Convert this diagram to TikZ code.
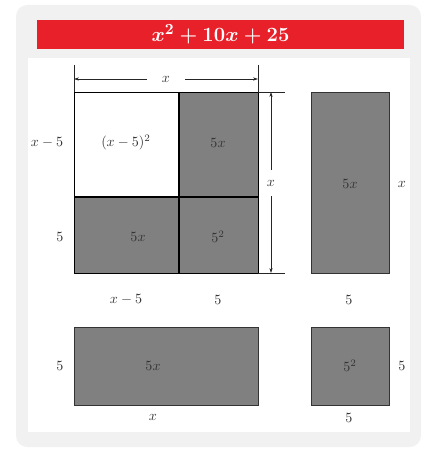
\documentclass[tikz,border=0pt]{standalone}
\usepackage{amsmath}
\usetikzlibrary{arrows.meta,positioning,calc}
\definecolor{BannerRed}{HTML}{E8202A}
\definecolor{PanelGrey}{HTML}{F1F1F1}
\definecolor{CellGrey}{HTML}{808080}
\definecolor{LabelInk}{HTML}{333333}

\begin{document}
\begin{tikzpicture}[
    x=0.025cm, y=-0.025cm,
    cell/.style={draw=black, line width=0.6pt, fill=white},
    gcell/.style={draw=black!80, line width=0.6pt, fill=CellGrey},
    lbl/.style={font=\normalsize, text=LabelInk, inner sep=1pt},
    dimlbl/.style={font=\normalsize, text=LabelInk, inner sep=0pt},
    dim/.style={-{Stealth[length=3.5pt, width=2.2pt]}, line width=0.4pt, color=black!85},
    ext/.style={line width=0.4pt, color=black!85}
  ]
  \useasboundingbox (0,0) rectangle (425,451);

  % Panel and banner
  \fill[PanelGrey, rounded corners=8pt] (16,5) rectangle (421,447);
  \fill[white] (28,58) rectangle (410,432);
  \node[fill=BannerRed, minimum width=9.175cm, minimum height=0.725cm,
        inner sep=0pt, text=white, font=\fontsize{15}{18}\selectfont\boldmath]
    (title) at (220.5,34.5) {$x^2+10x+25$};

  % Big square
  \filldraw[cell] (74,92) rectangle (179,197);
  \filldraw[gcell] (179,92) rectangle (258,197);
  \filldraw[gcell] (74,197) rectangle (179,273);
  \filldraw[gcell] (179,197) rectangle (258,273);
  \draw[line width=0.8pt] (179,92) -- (179,273) (74,197) -- (258,197);
  \draw[line width=0.6pt] (74,92) rectangle (258,273);

  \node[lbl] (sq) at (126,143) {$(x-5)^2$};
  \node[lbl] (tr) at (218,143) {$5x$};
  \node[lbl] (bl) at (138,237) {$5x$};
  \node[lbl] (br) at (218,237) {$5^2$};
  \node[lbl] (side1) at (47,143) {$x-5$};
  \node[lbl] (side2) at (60,237) {$5$};

  % Top dimension
  \draw[ext] (74,65) -- (74,92) (258,65) -- (258,92);
  \coordinate (topL) at (74,79);
  \coordinate (topR) at (258,79);
  \node[dimlbl, minimum width=0.95cm] (topx) at (166,79) {$x$};
  \draw[dim] (topx) -- (topL);
  \draw[dim] (topx) -- (topR);

  % Right dimension
  \draw[ext] (258,92) -- (285,92) (258,273) -- (285,273);
  \coordinate (sideT) at (271,92);
  \coordinate (sideB) at (271,273);
  \node[dimlbl, minimum height=0.65cm] (sidex) at (271,183) {$x$};
  \draw[dim] (sidex) -- (sideT);
  \draw[dim] (sidex) -- (sideB);

  % Tall rectangle
  \filldraw[gcell] (311,92) rectangle (389,273);
  \node[lbl] (tall) at (350,184) {$5x$};
  \node[lbl] (tallx) at (402,184) {$x$};

  % Row labels
  \node[lbl] (row1) at (126,300) {$x-5$};
  \node[lbl] (row2) at (218,300) {$5$};
  \node[lbl] (row3) at (349,300) {$5$};

  % Wide rectangle
  \filldraw[gcell] (74,327) rectangle (258,405);
  \node[lbl] (wide) at (153,366) {$5x$};
  \node[lbl] (wide5) at (60,366) {$5$};
  \node[lbl] (widex) at (153,417) {$x$};

  % Small square
  \filldraw[gcell] (311,327) rectangle (389,405);
  \node[lbl] (small) at (350,366) {$5^2$};
  \node[lbl] (small5r) at (402,366) {$5$};
  \node[lbl] (small5b) at (349,418) {$5$};

\end{tikzpicture}
\end{document}
